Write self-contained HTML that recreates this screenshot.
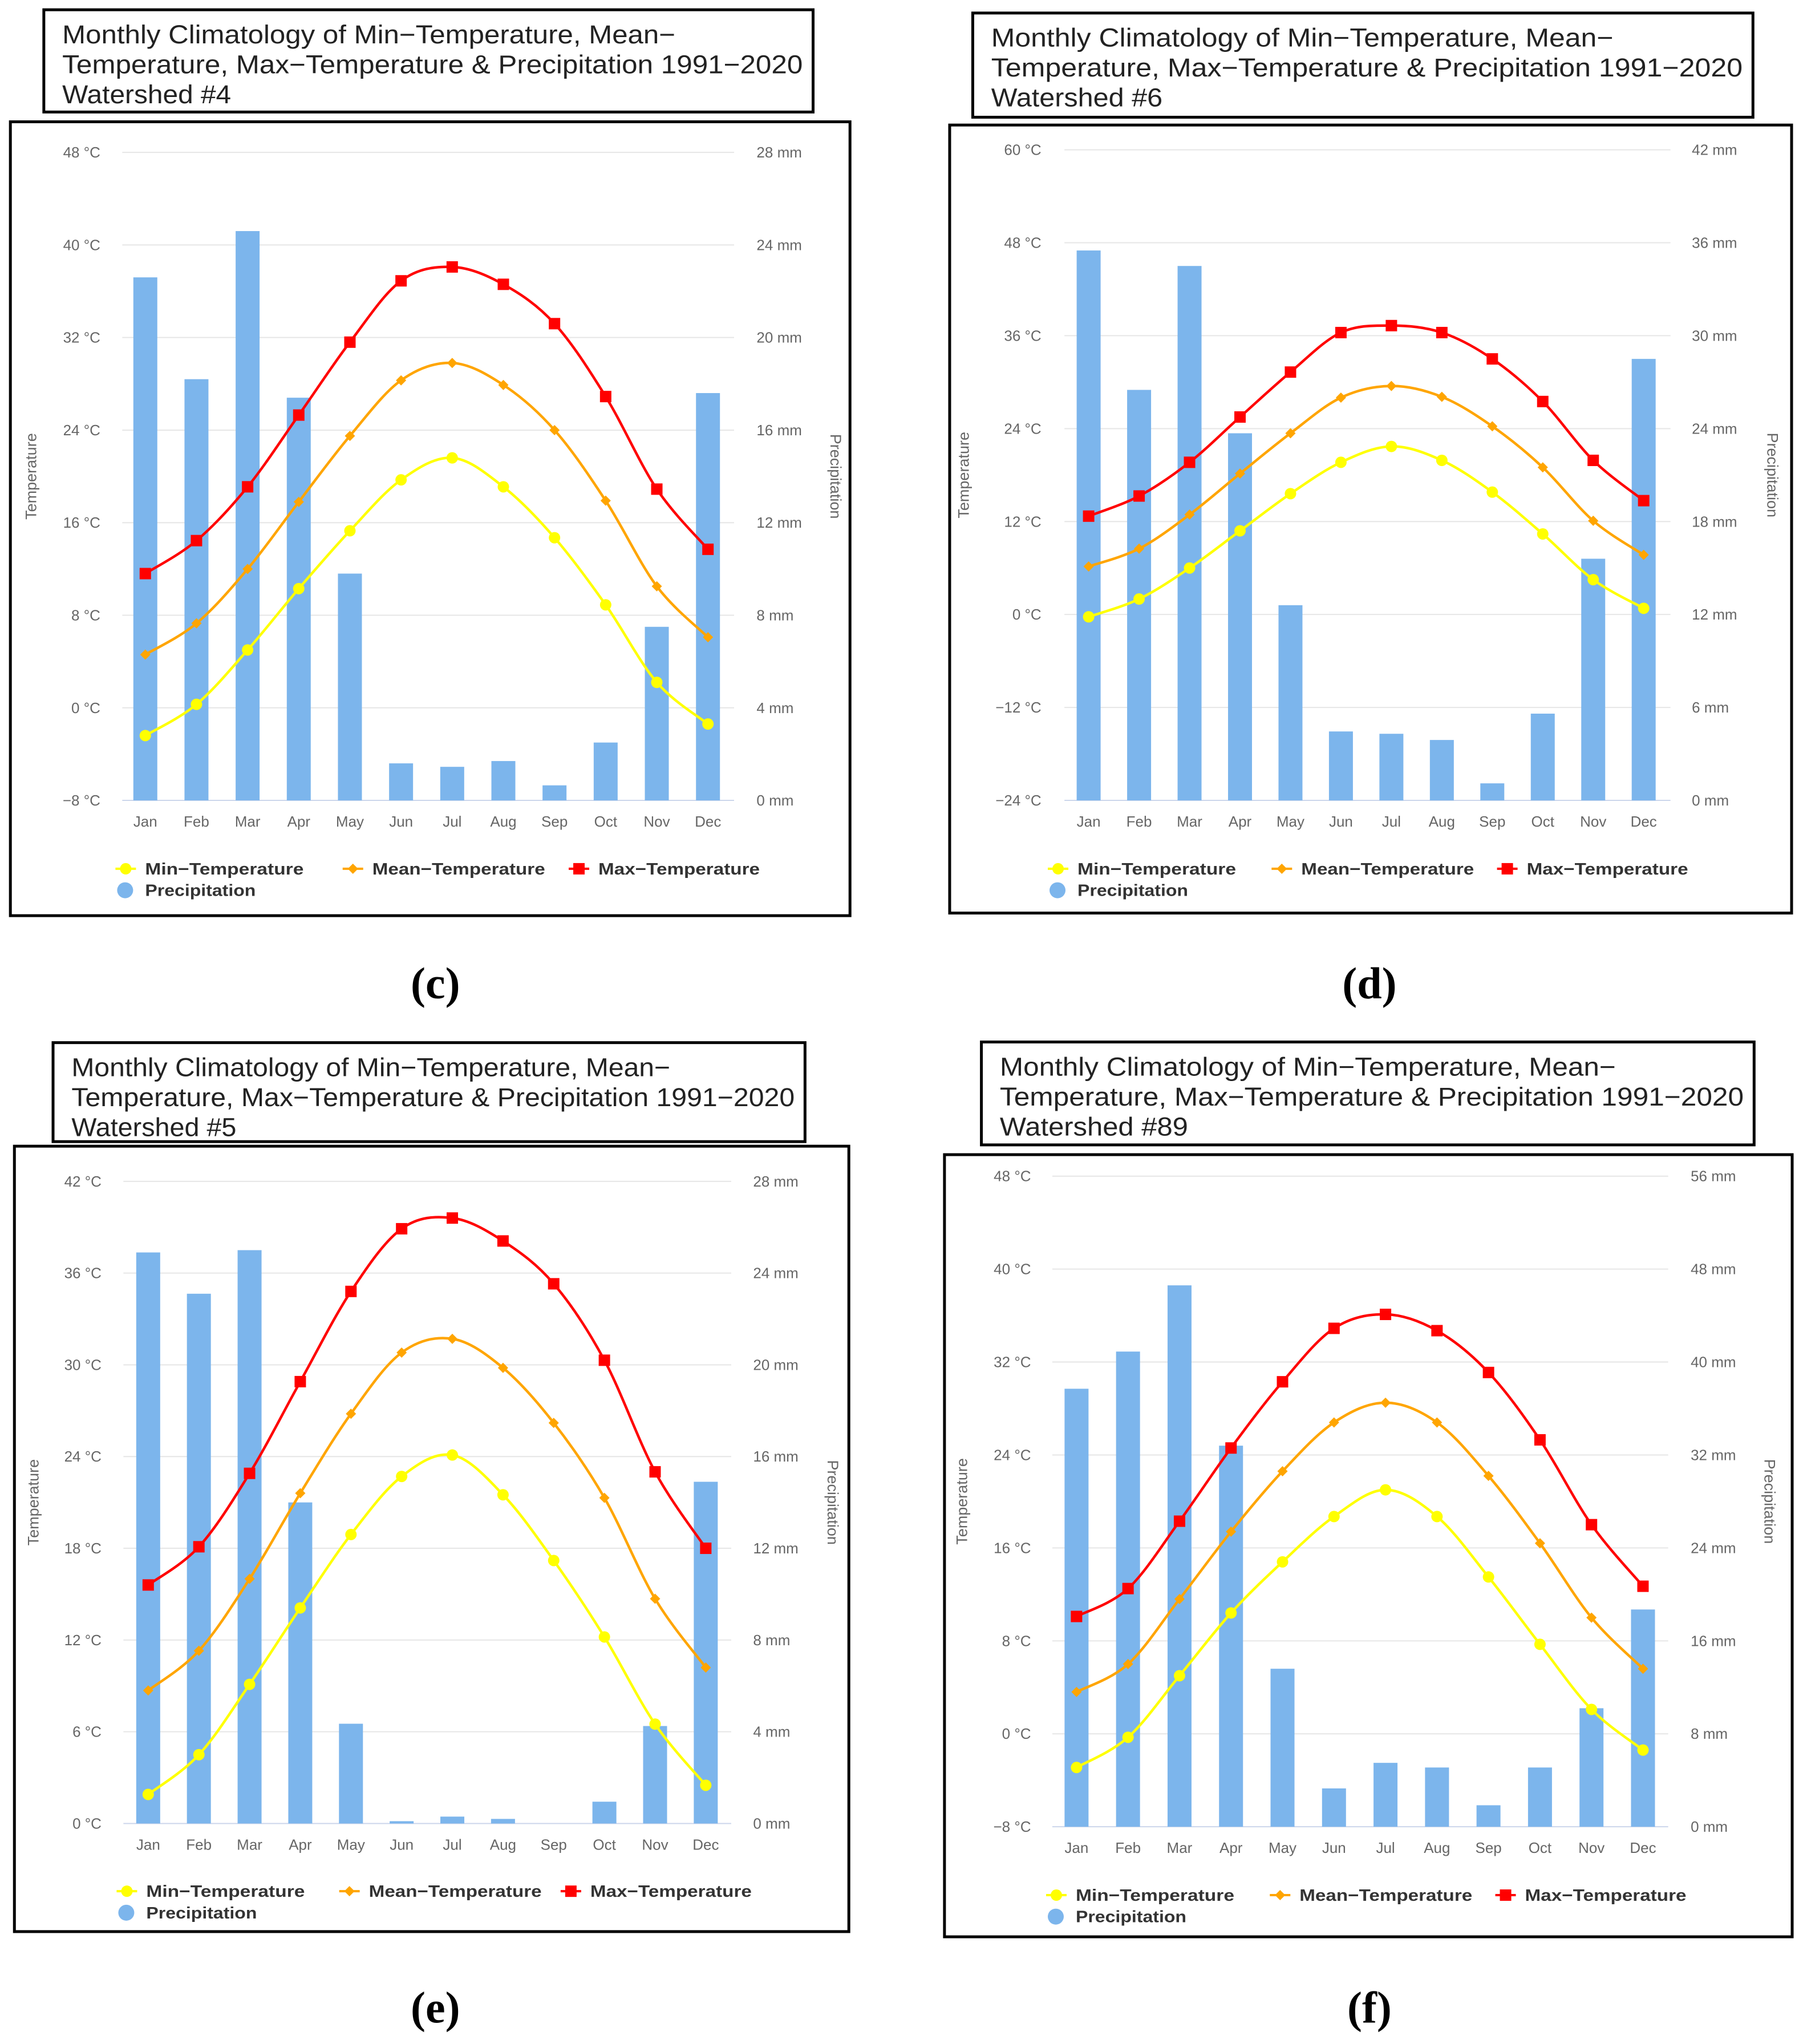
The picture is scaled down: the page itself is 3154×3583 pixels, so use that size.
<!DOCTYPE html>
<html><head><meta charset="utf-8"><style>
html,body{margin:0;padding:0;background:#fff;}
svg{display:block;font-family:"Liberation Sans","DejaVu Sans",sans-serif;}
</style></head>
<body>
<svg id="root" width="3154" height="3583" viewBox="0 0 3154 3583" xmlns="http://www.w3.org/2000/svg"></svg>
<script>
const months = ["Jan","Feb","Mar","Apr","May","Jun","Jul","Aug","Sep","Oct","Nov","Dec"];

// Panel c - Watershed #4
const cMin  = [-2.4,0.3,5.0,10.3,15.3,19.7,21.6,19.1,14.7,8.9,2.2,-1.4];
const cMean = [4.6,7.3,12.0,17.8,23.5,28.3,29.8,27.9,24.0,17.9,10.5,6.1];
const cMax  = [11.6,14.45,19.1,25.3,31.6,36.9,38.1,36.6,33.2,26.9,18.9,13.7];
const cPrec = [22.6,18.2,24.6,17.4,9.8,1.6,1.45,1.7,0.65,2.5,7.5,17.6];
const cTempTicks = [-8,0,8,16,24,32,40,48];
const cPrecTicks = [0,4,8,12,16,20,24,28];

// Panel d - Watershed #6
const dMin  = [-0.3,2.0,6.0,10.8,15.6,19.65,21.7,19.9,15.8,10.4,4.5,0.8];
const dMean = [6.2,8.5,12.9,18.2,23.4,28.0,29.5,28.1,24.3,19.0,12.1,7.7];
const dMax  = [12.7,15.3,19.65,25.5,31.3,36.4,37.3,36.4,33.0,27.5,19.9,14.7];
const dPrec = [35.5,26.5,34.5,23.7,12.6,4.45,4.3,3.9,1.1,5.6,15.6,28.5];
const dTempTicks = [-24,-12,0,12,24,36,48,60];
const dPrecTicks = [0,6,12,18,24,30,36,42];

// Panel e - Watershed #5
const eMin  = [1.9,4.5,9.1,14.1,18.9,22.7,24.1,21.5,17.2,12.2,6.5,2.5];
const eMean = [8.7,11.3,16.0,21.6,26.8,30.8,31.7,29.8,26.2,21.3,14.7,10.2];
const eMax  = [15.6,18.1,22.9,28.9,34.8,38.9,39.6,38.1,35.3,30.3,23.0,18.0];
const ePrec = [24.9,23.1,25.0,14.0,4.35,0.1,0.3,0.2,0,0.95,4.25,14.9];
const eTempTicks = [0,6,12,18,24,30,36,42];
const ePrecTicks = [0,4,8,12,16,20,24,28];

// Panel f - Watershed #89
const fMin  = [-2.9,-0.3,5.0,10.4,14.8,18.7,21.0,18.7,13.5,7.7,2.1,-1.4];
const fMean = [3.6,6.0,11.6,17.4,22.6,26.8,28.5,26.8,22.2,16.4,10.0,5.6];
const fMax  = [10.1,12.5,18.3,24.6,30.3,34.9,36.1,34.7,31.1,25.3,18.0,12.7];
const fPrec = [37.7,40.9,46.6,32.8,13.6,3.3,5.5,5.1,1.85,5.1,10.2,18.7];
const fTempTicks = [-8,0,8,16,24,32,40,48];
const fPrecTicks = [0,8,16,24,32,40,48,56];

const NS = "http://www.w3.org/2000/svg";
const root = document.getElementById('root');
const KX = 1.011, KY = 1.1416;
const X = v => v*KX, Y = v => v*KY;
function mk(tag, attrs, parent){
  const e = document.createElementNS(NS, tag);
  for (const k in attrs) e.setAttribute(k, attrs[k]);
  parent.appendChild(e);
  return e;
}
function smoothPath(pts){
  let d = "M" + pts[0][0] + "," + pts[0][1];
  for (let i=0;i<pts.length-1;i++){
    const p0 = pts[i-1]||pts[i], p1=pts[i], p2=pts[i+1], p3=pts[i+2]||pts[i+1];
    const t = 1/6;
    const c1x = p1[0]+(p2[0]-p0[0])*t, c1y = p1[1]+(p2[1]-p0[1])*t;
    const c2x = p2[0]-(p3[0]-p1[0])*t, c2y = p2[1]-(p3[1]-p1[1])*t;
    d += " C"+c1x+","+c1y+" "+c2x+","+c2y+" "+p2[0]+","+p2[1];
  }
  return d;
}

const panels = [
 {id:"c", ox:0, oy:0, ws:"4", tb:[76,15,1410,172], cb:[18,187,1474,1406], pl:212, pr:1273, pt:234, pb:1229, j:252, dstep:88.7,
  llr:174, rl:1312, ytx:63, ptx:1440, leg:[218,612,1004], legy:1334, lab:[755,1510],
  tmin:cTempTicks, pmax:cPrecTicks, mn:cMin, me:cMean, mx:cMax, pr_:cPrec},
 {id:"d", ox:1577, oy:0, ws:"6", tb:[127,20,1480,180], cb:[87,192,1547,1402], pl:286, pr:1337, pt:230, pb:1229, j:328, dstep:87.5,
  llr:246, rl:1374, ytx:120, ptx:1505, leg:[275,663,1054], legy:1334, lab:[815,1510],
  tmin:dTempTicks, pmax:dPrecTicks, mn:dMin, me:dMean, mx:dMax, pr_:dPrec},
 {id:"e", ox:0, oy:1790, ws:"5", tb:[92,33,1396,185], cb:[25,192,1472,1398], pl:214, pr:1268, pt:246, pb:1232, j:257, dstep:87.9,
  llr:176, rl:1306, ytx:67, ptx:1435, leg:[220,606,990], legy:1336, lab:[755,1515],
  tmin:eTempTicks, pmax:ePrecTicks, mn:eMin, me:eMean, mx:eMax, pr_:ePrec},
 {id:"f", ox:1577, oy:1790, ws:"89", tb:[142,32,1482,190], cb:[78,205,1548,1406], pl:265, pr:1333, pt:238, pb:1237, j:307, dstep:89.3,
  llr:228, rl:1372, ytx:117, ptx:1500, leg:[272,660,1051], legy:1342, lab:[815,1515],
  tmin:fTempTicks, pmax:fPrecTicks, mn:fMin, me:fMean, mx:fMax, pr_:fPrec}
];

panels.forEach(P => {
  const g = mk('g', {transform:"translate("+P.ox+","+P.oy+")"}, root);
  
  

  // title box
  const tbx = mk('rect', {x:X(P.tb[0]), y:Y(P.tb[1]), width:X(P.tb[2]-P.tb[0]), height:Y(P.tb[3]-P.tb[1]), fill:"#fff", stroke:"#000", "stroke-width":5}, g);
  
  
  const lines = ["Monthly Climatology of Min\u2212Temperature, Mean\u2212",
                 "Temperature, Max\u2212Temperature & Precipitation 1991\u22122020",
                 "Watershed #"+P.ws];
  const l2 = (P.tb[2]-18) - (P.tb[0]+32);
  const lens = [l2*0.828, l2, l2*(P.ws.length>1?0.253:0.228)];
  lines.forEach((s,i) => {
    const t = mk('text', {x:X(P.tb[0]+32), y:Y(P.tb[1]+48+i*46)+4, "font-size":45, fill:"#222", textLength:X(lens[i]), lengthAdjust:"spacingAndGlyphs"}, g);
    t.textContent = s;
    
    
  });

  // chart box
  const cbx = mk('rect', {x:X(P.cb[0]), y:Y(P.cb[1]), width:X(P.cb[2]-P.cb[0]), height:Y(P.cb[3]-P.cb[1]), fill:"#fff", stroke:"#000", "stroke-width":5}, g);
  
  

  const tLo = P.tmin[0], tHi = P.tmin[P.tmin.length-1];
  const pHi = P.pmax[P.pmax.length-1];
  const yT = v => Y(P.pb - (v - tLo)/(tHi - tLo)*(P.pb - P.pt));
  const yP = v => Y(P.pb - v/pHi*(P.pb - P.pt));
  const xC = i => X(P.j + i*P.dstep);
  const pb = Y(P.pb);

  // grid + tick labels
  P.tmin.forEach((v,i) => {
    const y = yT(v);
    const gl = mk('line', {x1:X(P.pl), x2:X(P.pr), y1:y, y2:y, stroke: i===0?"#ccd6eb":"#e6e6e6", "stroke-width":2}, g);
    
    
    const tl = mk('text', {x:X(P.llr), y:y+9, "font-size":26, fill:"#666", "text-anchor":"end"}, g);
    tl.textContent = (v<0?"\u2212"+(-v):v) + " \u00B0C";
    
    
    const pl = mk('text', {x:X(P.rl), y:y+9, "font-size":26, fill:"#666"}, g);
    pl.textContent = P.pmax[i] + " mm";
    
    
  });

  const yMid = Y((P.pt+P.pb)/2);
  const ytx = X(P.ytx), ptx = X(P.ptx);
  const yt = mk('text', {x:ytx, y:yMid, "font-size":27, fill:"#666", "text-anchor":"middle", transform:"rotate(-90 "+ytx+" "+yMid+")"}, g);
  yt.textContent = "Temperature";
  
  
  const pt = mk('text', {x:ptx, y:yMid, "font-size":27, fill:"#666", "text-anchor":"middle", transform:"rotate(90 "+ptx+" "+yMid+")"}, g);
  pt.textContent = "Precipitation";
  
  

  // bars
  P.pr_.forEach((v,i) => {
    const y = yP(v);
    const b = mk('rect', {x:xC(i)-21, y:y, width:42, height:pb-y, fill:"#7cb5ec"}, g);
    
    
  });

  // category labels
  months.forEach((m,i) => {
    const t = mk('text', {x:xC(i), y:pb+46, "font-size":26, fill:"#666", "text-anchor":"middle"}, g);
    t.textContent = m;
    
    
  });

  // lines
  const series = [
    {vals:P.mn, col:"#ffff00", name:"min-temperature", mark:"circle"},
    {vals:P.me, col:"#ffa500", name:"mean-temperature", mark:"diamond"},
    {vals:P.mx, col:"#ff0000", name:"max-temperature", mark:"square"}
  ];
  function marker(type, x, y, col, parent){
    let e;
    if (type==="circle") e = mk('circle', {cx:x, cy:y, r:10, fill:col}, parent);
    else if (type==="diamond") e = mk('path', {d:"M"+x+","+(y-9)+" L"+(x+9)+","+y+" L"+x+","+(y+9)+" L"+(x-9)+","+y+"Z", fill:col}, parent);
    else e = mk('rect', {x:x-10, y:y-10, width:20, height:20, fill:col}, parent);
    return e;
  }
  series.forEach(s => {
    const pts = s.vals.map((v,i) => [xC(i), yT(v)]);
    const ln = mk('path', {d:smoothPath(pts), fill:"none", stroke:s.col, "stroke-width":4.5}, g);
    
    
    pts.forEach(p => {
      const m = marker(s.mark, p[0], p[1], s.col, g);
      
      
    });
  });

  // legend
  const legNames = ["Min\u2212Temperature","Mean\u2212Temperature","Max\u2212Temperature"];
  const legLens = [278, 303, 283];
  const ly = Y(P.legy), ly2 = Y(P.legy+33);
  series.forEach((s,i) => {
    const lg = mk('g', {}, g);
    
    
    const x = X(P.leg[i]);
    mk('line', {x1:x-18, x2:x+18, y1:ly, y2:ly, stroke:s.col, "stroke-width":4}, lg);
    marker(s.mark, x, ly, s.col, lg);
    const t = mk('text', {x:x+34, y:ly+10, "font-size":29, "font-weight":"bold", fill:"#333", textLength:legLens[i], lengthAdjust:"spacingAndGlyphs"}, lg);
    t.textContent = legNames[i];
  });
  const lp = mk('g', {}, g);
  
  
  mk('circle', {cx:X(P.leg[0]-1), cy:ly2, r:14, fill:"#7cb5ec"}, lp);
  const lpt = mk('text', {x:X(P.leg[0])+34, y:ly2+10, "font-size":29, "font-weight":"bold", fill:"#333", textLength:194, lengthAdjust:"spacingAndGlyphs"}, lp);
  lpt.textContent = "Precipitation";

  // panel label
  const lab = mk('text', {x:X(P.lab[0]), y:Y(P.lab[1])+26, "font-size":78, "font-weight":"bold", "text-anchor":"middle", fill:"#000", "font-family":"Liberation Serif, serif"}, g);
  lab.textContent = "("+P.id+")";
  
  
});
</script>
</body></html>
